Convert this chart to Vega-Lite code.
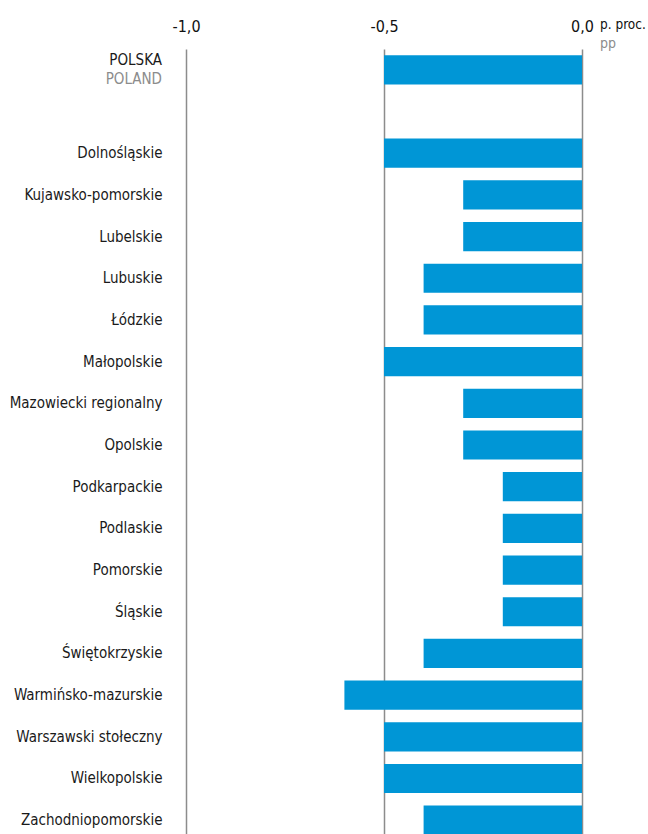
{
  "$schema": "https://vega.github.io/schema/vega-lite/v6.json",
  "width": 396,
  "height": 792,
  "autosize": {"type": "none"},
  "padding": {"top": 49, "left": 186, "right": 66, "bottom": 0},
  "config": {
    "view": {"stroke": null},
    "font": "DejaVu Sans Condensed, sans-serif"
  },
  "data": {
    "values": [
      {"region": "POLSKA", "value": -0.5},
      {"region": "Dolnośląskie", "value": -0.5},
      {"region": "Kujawsko-pomorskie", "value": -0.3},
      {"region": "Lubelskie", "value": -0.3},
      {"region": "Lubuskie", "value": -0.4},
      {"region": "Łódzkie", "value": -0.4},
      {"region": "Małopolskie", "value": -0.5},
      {"region": "Mazowiecki regionalny", "value": -0.3},
      {"region": "Opolskie", "value": -0.3},
      {"region": "Podkarpackie", "value": -0.2},
      {"region": "Podlaskie", "value": -0.2},
      {"region": "Pomorskie", "value": -0.2},
      {"region": "Śląskie", "value": -0.2},
      {"region": "Świętokrzyskie", "value": -0.4},
      {"region": "Warmińsko-mazurskie", "value": -0.6},
      {"region": "Warszawski stołeczny", "value": -0.5},
      {"region": "Wielkopolskie", "value": -0.5},
      {"region": "Zachodniopomorskie", "value": -0.4}
    ]
  },
  "encoding": {
    "y": {
      "field": "region",
      "type": "nominal",
      "sort": null,
      "scale": {
        "domain": ["POLSKA", " ", "Dolnośląskie", "Kujawsko-pomorskie", "Lubelskie", "Lubuskie", "Łódzkie", "Małopolskie", "Mazowiecki regionalny", "Opolskie", "Podkarpackie", "Podlaskie", "Pomorskie", "Śląskie", "Świętokrzyskie", "Warmińsko-mazurskie", "Warszawski stołeczny", "Wielkopolskie", "Zachodniopomorskie"],
        "paddingInner": 0.3,
        "paddingOuter": 0.15
      },
      "axis": {
        "title": null,
        "domain": false,
        "ticks": false,
        "labelPadding": 24,
        "labelFontSize": 15,
        "labelColor": "#1a1a1a",
        "labelExpr": "datum.value == 'POLSKA' ? '' : datum.value"
      }
    }
  },
  "layer": [
    {
      "mark": {"type": "bar", "color": "#0096d6"},
      "encoding": {
        "x": {
          "field": "value",
          "type": "quantitative",
          "scale": {"domain": [-1, 0], "nice": false},
          "axis": {
            "orient": "top",
            "title": null,
            "values": [-1, -0.5, 0],
            "domain": false,
            "ticks": false,
            "labelFlush": false,
            "labelPadding": 15,
            "labelFontSize": 16,
            "labelColor": "#111111",
            "labelExpr": "replace(replace(format(datum.value, '.1f'), '.', ','), '−', '-')",
            "grid": true,
            "gridColor": "#8c8c8c",
            "gridWidth": 1.5
          }
        }
      }
    },
    {
      "transform": [{"filter": "datum.region == 'POLSKA'"}],
      "mark": {"type": "text", "align": "right", "baseline": "middle", "dx": -24, "dy": -10, "fontSize": 15, "color": "#1a1a1a"},
      "encoding": {"x": {"datum": -1, "type": "quantitative"}, "text": {"value": "POLSKA"}}
    },
    {
      "transform": [{"filter": "datum.region == 'POLSKA'"}],
      "mark": {"type": "text", "align": "right", "baseline": "middle", "dx": -24, "dy": 9, "fontSize": 15, "color": "#8c8c8c"},
      "encoding": {"x": {"datum": -1, "type": "quantitative"}, "text": {"value": "POLAND"}}
    },
    {
      "transform": [{"filter": "datum.region == 'POLSKA'"}],
      "mark": {"type": "text", "align": "left", "baseline": "middle", "dx": 18, "dy": -45, "fontSize": 13.5, "color": "#111111"},
      "encoding": {"x": {"datum": 0, "type": "quantitative"}, "text": {"value": "p. proc."}}
    },
    {
      "transform": [{"filter": "datum.region == 'POLSKA'"}],
      "mark": {"type": "text", "align": "left", "baseline": "middle", "dx": 18, "dy": -26, "fontSize": 14, "color": "#8c8c8c"},
      "encoding": {"x": {"datum": 0, "type": "quantitative"}, "text": {"value": "pp"}}
    }
  ]
}
